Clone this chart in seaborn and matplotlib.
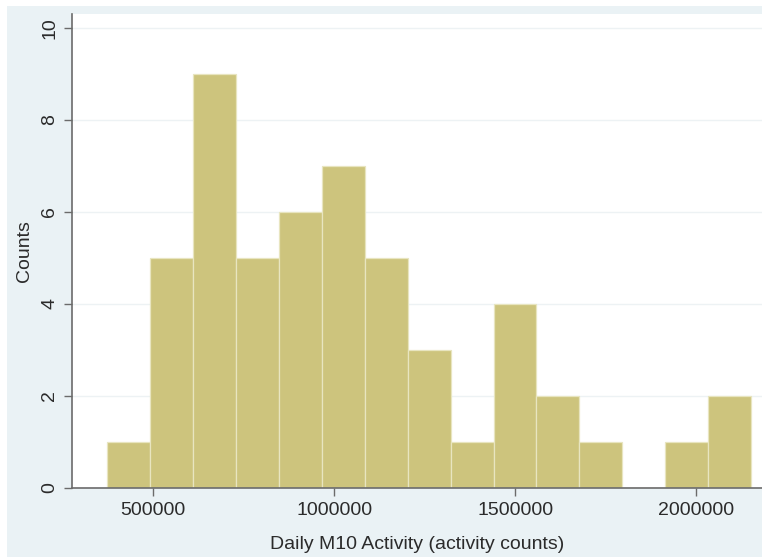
import numpy as np
import pandas as pd
import matplotlib
matplotlib.use("Agg")
import matplotlib.pyplot as plt
from matplotlib.patches import Rectangle
import seaborn as sns

# histogram: 15 equal bins
bin_start = 373000
bin_width = 118600
counts = [1, 5, 9, 5, 6, 7, 5, 3, 1, 4, 2, 1, 0, 1, 2]
x_ticks = [500000, 1000000, 1500000, 2000000]
y_ticks = [0, 2, 4, 6, 8, 10]

edges = bin_start + bin_width * np.arange(len(counts) + 1)
df = pd.DataFrame({
    "activity": (edges[:-1] + edges[1:]) / 2,
    "n": counts,
})

sns.set_style("white")
plt.rcParams["font.family"] = ["Liberation Sans", "DejaVu Sans"]

fig = plt.figure(figsize=(7.62, 5.57), dpi=100, facecolor="white")
# light bluish graph region, Stata-like
fig.patches.append(Rectangle((7 / 762, 0), 1, 1 - 6 / 557, transform=fig.transFigure,
                             facecolor="#eaf2f5", edgecolor="none", zorder=-10))

ax = fig.add_axes([72 / 762, 69 / 557, 1 - 72 / 762, (488 - 14) / 557])
ax.set_facecolor("white")

sns.histplot(data=df, x="activity", weights="n", bins=[float(e) for e in edges], ax=ax,
             color="#cdc47d", alpha=1, edgecolor="#e8e5c0", linewidth=0.9)

ax.set_xlim(276000, 2182000)
ax.set_ylim(0, 10.3)
ax.set_xticks(x_ticks)
ax.set_xticklabels([str(v) for v in x_ticks])
ax.set_yticks(y_ticks)
ax.set_yticklabels([str(v) for v in y_ticks], rotation=90, va="center")

ax.yaxis.grid(True, color="#edf2f4", linewidth=1)
ax.set_axisbelow(True)

for side in ["top", "right"]:
    ax.spines[side].set_visible(False)
for side in ["left", "bottom"]:
    ax.spines[side].set_color("#6b6b6b")
    ax.spines[side].set_linewidth(1.2)

ax.tick_params(axis="both", which="major", direction="out", length=6, width=1,
               color="#6b6b6b", labelsize=14, labelcolor="#2b2b2b", pad=4,
               bottom=True, left=True)

ax.set_xlabel("Daily M10 Activity (activity counts)", fontsize=14, color="#2b2b2b", labelpad=12)
ax.set_ylabel("Counts", fontsize=14, color="#2b2b2b", labelpad=6)

fig.savefig("out.png", dpi=100, facecolor=fig.get_facecolor())
